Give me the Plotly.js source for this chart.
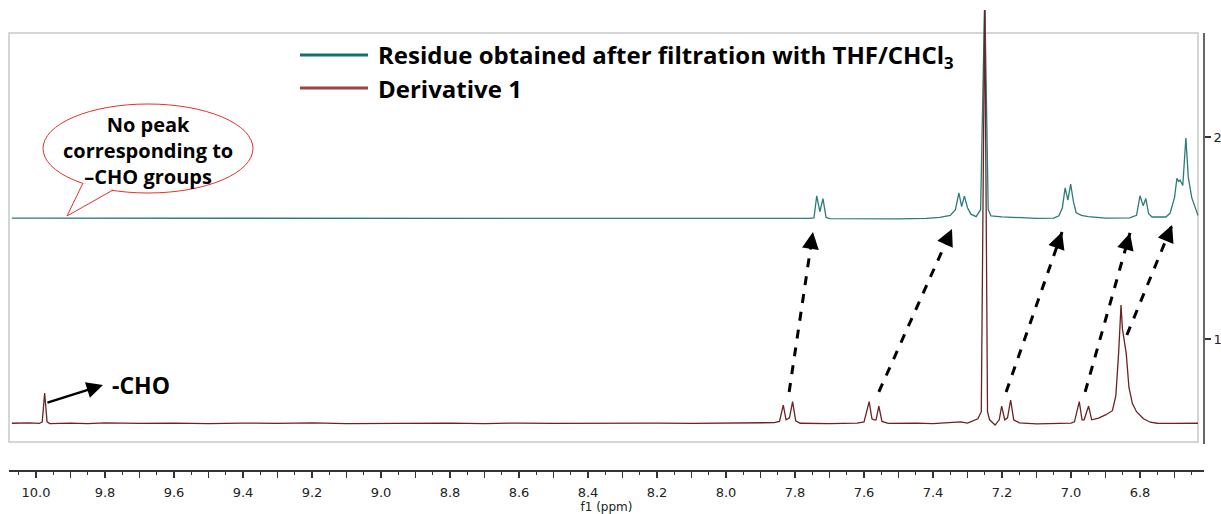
<!DOCTYPE html>
<html>
<head>
<meta charset="utf-8">
<script src="https://cdn.plot.ly/plotly-3.0.1.min.js"></script>
<style>html,body{margin:0;padding:0;background:#fff;}#chart{width:1221px;height:514px;}</style>
</head>
<body>
<div id="chart"></div>
<script>
// ---- data ----
const tealName = 'Residue obtained after filtration with THF/CHCl<sub>3</sub>';
const redName = 'Derivative 1';

const tealPpm = [10.07, 9.80, 9.50, 9.20, 8.90, 8.60, 8.30, 8.00, 7.80, 7.76, 7.745, 7.737, 7.728, 7.719, 7.710, 7.70,
  7.50, 7.42, 7.38, 7.35, 7.335, 7.325, 7.317, 7.309, 7.30, 7.29, 7.275, 7.262, 7.250, 7.240, 7.232, 7.20, 7.10,
  7.05, 7.035, 7.025, 7.017, 7.009, 7.001, 6.993, 6.985, 6.97, 6.95, 6.90, 6.83, 6.81, 6.80, 6.791, 6.783, 6.775,
  6.765, 6.74, 6.725, 6.713, 6.70, 6.693, 6.688, 6.684, 6.676, 6.667, 6.660, 6.650, 6.640, 6.632];
const tealInt = [1.598, 1.598, 1.597, 1.597, 1.596, 1.596, 1.595, 1.595, 1.595, 1.597, 1.600, 1.709, 1.630, 1.695, 1.602, 1.596,
  1.595, 1.597, 1.602, 1.612, 1.640, 1.723, 1.655, 1.707, 1.650, 1.618, 1.606, 1.640, 2.700, 1.640, 1.610, 1.605, 1.597,
  1.598, 1.610, 1.650, 1.748, 1.688, 1.767, 1.680, 1.625, 1.612, 1.606, 1.598, 1.600, 1.612, 1.709, 1.660, 1.695, 1.620,
  1.604, 1.606, 1.604, 1.622, 1.700, 1.795, 1.780, 1.787, 1.760, 1.995, 1.800, 1.700, 1.650, 1.612];

const redPpm = [10.07, 10.02, 9.99, 9.982, 9.975, 9.968, 9.96, 9.90, 9.85, 9.80, 9.70, 9.60, 9.50, 9.40, 9.30, 9.20,
  9.10, 9.00, 8.90, 8.80, 8.70, 8.60, 8.50, 8.40, 8.30, 8.20, 8.10, 8.00, 7.90, 7.86, 7.845, 7.834, 7.826, 7.816,
  7.807, 7.798, 7.785, 7.70, 7.62, 7.60, 7.585, 7.577, 7.571, 7.565, 7.557, 7.548, 7.53, 7.45, 7.40, 7.35, 7.32,
  7.30, 7.28, 7.27, 7.26, 7.250, 7.242, 7.236, 7.22, 7.208, 7.201, 7.192, 7.184, 7.175, 7.166, 7.15, 7.10, 7.05,
  7.00, 6.99, 6.976, 6.968, 6.962, 6.949, 6.940, 6.92, 6.90, 6.88, 6.870, 6.862, 6.855, 6.851, 6.847, 6.840, 6.832,
  6.822, 6.81, 6.79, 6.77, 6.75, 6.70, 6.66, 6.632];
const redInt = [0.583, 0.585, 0.582, 0.590, 0.733, 0.590, 0.581, 0.584, 0.581, 0.585, 0.582, 0.584, 0.581, 0.584, 0.582, 0.585,
  0.581, 0.583, 0.582, 0.584, 0.581, 0.584, 0.582, 0.583, 0.581, 0.584, 0.582, 0.583, 0.584, 0.586, 0.592, 0.673, 0.600, 0.610,
  0.690, 0.595, 0.583, 0.581, 0.584, 0.590, 0.690, 0.605, 0.600, 0.600, 0.668, 0.592, 0.582, 0.584, 0.581, 0.585, 0.590,
  0.584, 0.599, 0.605, 0.640, 2.700, 0.640, 0.600, 0.574, 0.600, 0.668, 0.600, 0.610, 0.698, 0.600, 0.585, 0.580, 0.583,
  0.584, 0.590, 0.690, 0.600, 0.600, 0.668, 0.600, 0.608, 0.624, 0.645, 0.720, 0.930, 1.168, 1.050, 1.011, 0.930, 0.760,
  0.680, 0.640, 0.605, 0.588, 0.583, 0.582, 0.584, 0.583];

const xTickVals = [10.0, 9.9, 9.8, 9.7, 9.6, 9.5, 9.4, 9.3, 9.2, 9.1, 9.0, 8.9, 8.8, 8.7, 8.6, 8.5, 8.4, 8.3, 8.2, 8.1,
  8.0, 7.9, 7.8, 7.7, 7.6, 7.5, 7.4, 7.3, 7.2, 7.1, 7.0, 6.9, 6.8, 6.7];
const xTickText = ['10.0', ' ', '9.8', ' ', '9.6', ' ', '9.4', ' ', '9.2', ' ', '9.0', ' ', '8.8', ' ', '8.6', ' ', '8.4', ' ', '8.2', ' ',
  '8.0', ' ', '7.8', ' ', '7.6', ' ', '7.4', ' ', '7.2', ' ', '7.0', ' ', '6.8', ' '];
const yTickVals = [1, 2];
const yTickText = ['1', '2'];

// arrows: [fromPpm, fromInt, toPpm, toInt]
const shiftArrows = [
  [7.817, 0.738, 7.748, 1.530],
  [7.557, 0.738, 7.345, 1.545],
  [7.188, 0.738, 7.026, 1.530],
  [6.959, 0.738, 6.829, 1.525],
  [6.838, 1.020, 6.707, 1.564]
];

// ---- chart ----
const W = 1221, H = 514, L = 9, R = 17, T = 10, B = 44;
const pw = W - L - R, ph = H - T - B;
const px = v => (v - L) / pw;
const py = v => (H - B - v) / ph;

const TEAL_LINE = '#2b7b78', TEAL_LEG = '#14706c';
const RED_LINE = '#6b2323', RED_LEG = '#a3403d';
const BOLD = '"Open Sans", Lato, sans-serif';

const traces = [
  {x: tealPpm, y: tealInt, type: 'scatter', mode: 'lines', name: tealName,
   line: {color: TEAL_LINE, width: 1.3}, showlegend: false, hoverinfo: 'skip'},
  {x: redPpm, y: redInt, type: 'scatter', mode: 'lines', name: redName,
   line: {color: RED_LINE, width: 1.3}, showlegend: false, hoverinfo: 'skip'}
];

const shapes = [
  {type: 'rect', xref: 'paper', yref: 'paper', x0: 0, x1: px(1198), y0: py(442), y1: py(33),
   line: {color: '#c8c8c8', width: 1.5}, layer: 'below'},
  {type: 'line', xref: 'paper', yref: 'paper', x0: 1, x1: 1, y0: py(444), y1: py(33),
   line: {color: '#333', width: 1.5}},
  {type: 'line', xref: 'paper', yref: 'paper', x0: px(300), x1: px(368), y0: py(55), y1: py(55),
   line: {color: TEAL_LEG, width: 3}},
  {type: 'line', xref: 'paper', yref: 'paper', x0: px(300), x1: px(368), y0: py(88), y1: py(88),
   line: {color: RED_LEG, width: 3}},
  {type: 'circle', xref: 'paper', yref: 'paper', x0: px(43), x1: px(253), y0: py(193), y1: py(104),
   line: {color: '#e8302a', width: 1}, fillcolor: '#ffffff'},
  {type: 'path', xref: 'paper', yref: 'paper',
   path: 'M ' + px(83) + ' ' + py(183) + ' L ' + px(67) + ' ' + py(216) + ' L ' + px(113) + ' ' + py(190),
   line: {color: '#e8302a', width: 1}, fillcolor: '#ffffff'}
];

const annotations = [
  {xref: 'paper', yref: 'paper', x: px(376), y: py(56), xanchor: 'left', yanchor: 'middle', showarrow: false,
   text: '<b>' + tealName + '</b>', font: {family: BOLD, size: 24, color: '#000'}},
  {xref: 'paper', yref: 'paper', x: px(376), y: py(88), xanchor: 'left', yanchor: 'middle', showarrow: false,
   text: '<b>' + redName + '</b>', font: {family: BOLD, size: 24, color: '#000'}},
  {xref: 'paper', yref: 'paper', x: px(148), y: py(150), xanchor: 'center', yanchor: 'middle', showarrow: false,
   align: 'center', text: '<b>No peak<br>corresponding to<br>–CHO groups</b>',
   font: {family: BOLD, size: 20, color: '#000'}},
  {xref: 'paper', yref: 'paper', x: px(110), y: py(385), xanchor: 'left', yanchor: 'middle', showarrow: false,
   text: '<b>-CHO</b>', font: {family: BOLD, size: 23, color: '#000'}},
  {xref: 'x', yref: 'y', x: 9.806, y: 0.772, ax: -57, ay: 18, text: '', showarrow: true,
   arrowhead: 2, arrowsize: 1.3, arrowwidth: 2.5, arrowcolor: '#000', standoff: 0}
];

shiftArrows.forEach(a => {
  shapes.push({type: 'line', xref: 'x', yref: 'y', x0: a[0], y0: a[1], x1: a[2], y1: a[3],
    line: {color: '#000', width: 3, dash: 'dash'}});
  const dx = (a[0] - a[2]) * 345, dy = (a[3] - a[1]) * 202;
  const len = Math.sqrt(dx * dx + dy * dy);
  annotations.push({xref: 'x', yref: 'y', x: a[2], y: a[3], ax: -dx / len * 14, ay: dy / len * 14,
    text: '', showarrow: true, arrowhead: 2, arrowsize: 1.3, arrowwidth: 2.6, arrowcolor: '#000', standoff: 0});
});

const layout = {
  width: W, height: H,
  margin: {l: L, r: R, t: T, b: B, pad: 0},
  paper_bgcolor: '#fff', plot_bgcolor: '#fff',
  showlegend: false,
  xaxis: {
    range: [10.0783, 6.6145], showgrid: false, zeroline: false,
    showline: true, linecolor: '#333', linewidth: 1.5,
    tickmode: 'array', tickvals: xTickVals, ticktext: xTickText,
    ticks: 'outside', ticklen: 6, tickwidth: 1.3, tickcolor: '#333',
    ticklabelstandoff: 4,
    minor: {dtick: 0.05, tick0: 0, ticks: 'outside', ticklen: 3, tickwidth: 1.1, tickcolor: '#333', showgrid: false},
    tickfont: {family: '"DejaVu Sans", Verdana, sans-serif', size: 13, color: '#222'},
    title: {text: 'f1 (ppm)', standoff: 0, font: {family: '"DejaVu Sans", Verdana, sans-serif', size: 12, color: '#222'}}
  },
  yaxis: {
    range: [0.3515, 2.6287], side: 'right', showgrid: false, zeroline: false, showline: false,
    tickmode: 'array', tickvals: yTickVals, ticktext: yTickText,
    ticks: 'outside', ticklen: 6, tickwidth: 1.3, tickcolor: '#333',
    tickfont: {family: '"DejaVu Sans", Verdana, sans-serif', size: 13, color: '#222'}
  },
  shapes: shapes,
  annotations: annotations
};

Plotly.newPlot('chart', traces, layout, {staticPlot: true, displayModeBar: false});
</script>
</body>
</html>
